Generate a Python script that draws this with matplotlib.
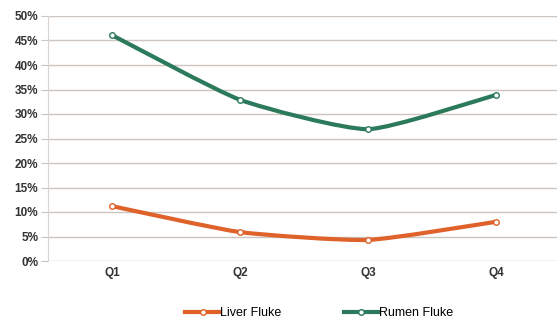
import numpy as np
import matplotlib.pyplot as plt
from matplotlib.path import Path
from matplotlib.patches import PathPatch
from matplotlib.lines import Line2D

# Quarterly prevalence of flukes (%)
quarters = ["Q1", "Q2", "Q3", "Q4"]
liver_fluke = [11.2, 5.9, 4.3, 8.0]
rumen_fluke = [46.1, 32.9, 26.9, 33.9]
yticks = [0, 5, 10, 15, 20, 25, 30, 35, 40, 45, 50]

orange = "#e0622b"
green = "#2b7a5b"
grid_col = "#cdc5c0"


def smooth_path(xs, ys, k=0.09):
    # light bezier smoothing through the data points (like Excel smoothed lines)
    pts = np.column_stack([xs, ys]).astype(float)
    verts = [pts[0]]
    codes = [Path.MOVETO]
    n = len(pts)
    for i in range(n - 1):
        p0 = pts[max(i - 1, 0)]
        p1 = pts[i]
        p2 = pts[i + 1]
        p3 = pts[min(i + 2, n - 1)]
        c1 = p1 + (p2 - p0) * k
        c2 = p2 - (p3 - p1) * k
        verts += [c1, c2, p2]
        codes += [Path.CURVE4] * 3
    return Path(verts, codes)


fig = plt.figure(figsize=(5.57, 3.22), dpi=100)
ax = fig.add_axes([48 / 557, 61 / 322, 512 / 557, 245 / 322])

x = np.arange(len(quarters))
for vals, col in [(liver_fluke, orange), (rumen_fluke, green)]:
    ax.add_patch(PathPatch(smooth_path(x, vals), fill=False, edgecolor=col,
                           lw=3.0, capstyle="round", joinstyle="round", zorder=3))
    ax.plot(x, vals, ls="none", marker="o", ms=4, mfc="white", mec=col,
            mew=1.0, zorder=4)

ax.set_xlim(-0.5, len(quarters) - 0.5)
ax.set_ylim(0, 50)
ax.set_yticks(yticks)
ax.set_yticklabels([f"{v}%" for v in yticks])
ax.set_xticks(x)
ax.set_xticklabels(quarters)

ax.yaxis.grid(True, color=grid_col, lw=1.0)
ax.set_axisbelow(True)
for s in ["top", "right", "bottom"]:
    ax.spines[s].set_visible(False)
ax.spines["left"].set_color("#d8d4d2")
ax.tick_params(axis="y", length=5, color=grid_col, labelsize=8.5,
               labelcolor="#333333", pad=2)
ax.tick_params(axis="x", length=0, labelsize=8.5, labelcolor="#333333", pad=4)
for lab in ax.get_xticklabels() + ax.get_yticklabels():
    lab.set_fontweight("bold")
    lab.set_family("Liberation Sans")

handles = [Line2D([], [], color=orange, lw=3, marker="o", ms=4, mfc="white", mec=orange),
           Line2D([], [], color=green, lw=3, marker="o", ms=4, mfc="white", mec=green)]
fig.legend(handles, ["Liver Fluke", "Rumen Fluke"], loc="center",
           bbox_to_anchor=(0.573, 0.028), ncol=2, frameon=False,
           handlelength=2.8, handletextpad=0.0, columnspacing=5,
           prop={"family": "Liberation Sans", "size": 9})

fig.savefig("out.png", dpi=100)
